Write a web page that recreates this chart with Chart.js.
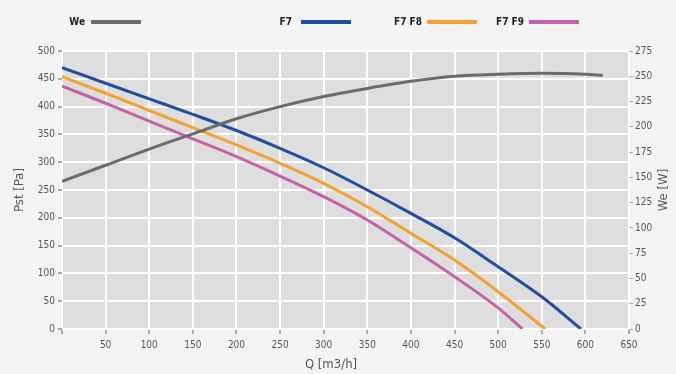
<!DOCTYPE html>
<html>
<head>
<meta charset="utf-8">
<script src="https://cdn.jsdelivr.net/npm/chart.js@4/dist/chart.umd.min.js"></script>
<style>
  html, body { margin: 0; padding: 0; background: #f4f4f4; }
  #wrap { width: 676px; height: 374px; }
</style>
</head>
<body>
<div id="wrap"><canvas id="fanChart" width="676" height="374"></canvas></div>
<script>
// ---- data ----
const qF7   = [0, 50, 100, 150, 200, 250, 300, 350, 400, 450, 500, 550, 595];
const pF7   = [470, 442, 414, 386, 357, 325, 290, 250, 208, 164, 112, 58, 0];

const qF7F8 = [0, 50, 100, 150, 200, 250, 300, 350, 400, 450, 500, 554];
const pF7F8 = [454, 424, 393, 362, 331, 298, 262, 220, 172, 124, 67, 0];

const qF7F9 = [0, 50, 100, 150, 200, 250, 300, 350, 400, 450, 500, 528];
const pF7F9 = [437, 406, 374, 342, 310, 275, 238, 196, 146, 94, 38, 0];

const qWe   = [0, 50, 100, 150, 200, 250, 300, 350, 400, 450, 500, 550, 600, 620];
const pWe   = [146, 162, 178, 193, 208, 220, 230, 238, 245, 250, 252, 253, 252, 251];

const seriesNames = ['We', 'F7', 'F7 F8', 'F7 F9'];
const seriesColors = ['#6b6b6b', '#1f4f9e', '#f4a032', '#c462a8'];

const xTitle = 'Q [m3/h]';
const yLeftTitle = 'Pst [Pa]';
const yRightTitle = 'We [W]';

const FONT = "'Liberation Sans Narrow', 'DejaVu Sans Condensed', 'Arial Narrow', sans-serif";

function toPoints(qs, vals) {
    return qs.map((q, i) => ({ x: q, y: vals[i] }));
}

// plot background, legend row and axis titles
const sheetPlugin = {
    id: 'sheet',
    beforeDraw(chart) {
        const { ctx, chartArea: a } = chart;
        ctx.save();
        ctx.fillStyle = '#f4f4f4';
        ctx.fillRect(0, 0, chart.width, chart.height);
        ctx.fillStyle = '#dedede';
        ctx.fillRect(a.left, a.top, a.right - a.left, a.bottom - a.top);
        ctx.restore();
    },
    afterDraw(chart) {
        const ctx = chart.ctx;
        const a = chart.chartArea;
        const midY = (a.top + a.bottom) / 2;
        // legend: text to the left of a short thick line
        const legendSlots = [
            { text: 85, line: 91 },
            { text: 292, line: 301 },
            { text: 422, line: 427 },
            { text: 524, line: 529 }
        ];
        ctx.save();
        ctx.font = 'bold 10px ' + FONT;
        ctx.textAlign = 'right';
        ctx.textBaseline = 'middle';
        chart.data.datasets.forEach((ds, i) => {
            const s = legendSlots[i];
            ctx.fillStyle = '#222';
            ctx.fillText(ds.label, s.text, 22);
            ctx.strokeStyle = ds.borderColor;
            ctx.lineWidth = 4;
            ctx.beginPath();
            ctx.moveTo(s.line, 22);
            ctx.lineTo(s.line + 50, 22);
            ctx.stroke();
        });

        ctx.fillStyle = '#555';
        ctx.font = '13px ' + FONT;
        ctx.textAlign = 'center';
        ctx.fillText(xTitle, 331, 365);

        ctx.save();
        ctx.translate(20, midY);
        ctx.rotate(-Math.PI / 2);
        ctx.fillText(yLeftTitle, 0, 0);
        ctx.restore();

        ctx.translate(664, midY);
        ctx.rotate(-Math.PI / 2);
        ctx.fillText(yRightTitle, 0, 0);
        ctx.restore();
    }
};

const tickFont = { family: FONT, size: 10 };

const datasets = [
    { label: seriesNames[0], data: toPoints(qWe, pWe), yAxisID: 'yW' },
    { label: seriesNames[1], data: toPoints(qF7, pF7), yAxisID: 'y' },
    { label: seriesNames[2], data: toPoints(qF7F8, pF7F8), yAxisID: 'y' },
    { label: seriesNames[3], data: toPoints(qF7F9, pF7F9), yAxisID: 'y' }
].map((ds, i) => Object.assign(ds, {
    borderColor: seriesColors[i],
    backgroundColor: seriesColors[i],
    borderWidth: 3,
    pointRadius: 0,
    cubicInterpolationMode: 'monotone',
    fill: false
}));

new Chart(document.getElementById('fanChart'), {
    type: 'line',
    data: { datasets },
    plugins: [sheetPlugin],
    options: {
        responsive: false,
        animation: false,
        layout: { padding: { top: 51, left: 0, right: 0, bottom: 0 } },
        plugins: { legend: { display: false }, tooltip: { enabled: false } },
        scales: {
            x: {
                type: 'linear',
                min: 0, max: 650,
                border: { display: false },
                grid: { color: '#ffffff', lineWidth: 2, tickColor: '#aaa', tickLength: 5 },
                ticks: {
                    stepSize: 50, color: '#555', font: tickFont, padding: 5,
                    callback: v => (v === 0 ? '' : v)
                },
                afterFit(scale) { scale.height = 45; }
            },
            y: {
                position: 'left',
                min: 0, max: 500,
                border: { display: false },
                grid: { color: '#ffffff', lineWidth: 2, tickColor: '#aaa', tickLength: 4 },
                ticks: { stepSize: 50, color: '#555', font: tickFont, padding: 3 },
                afterFit(scale) { scale.width = 62; }
            },
            yW: {
                position: 'right',
                min: 0, max: 275,
                border: { display: false },
                grid: { drawOnChartArea: false, tickColor: '#aaa', tickLength: 4 },
                ticks: { stepSize: 25, color: '#555', font: tickFont, padding: 2 },
                afterFit(scale) { scale.width = 47; }
            }
        }
    }
});
</script>
</body>
</html>
